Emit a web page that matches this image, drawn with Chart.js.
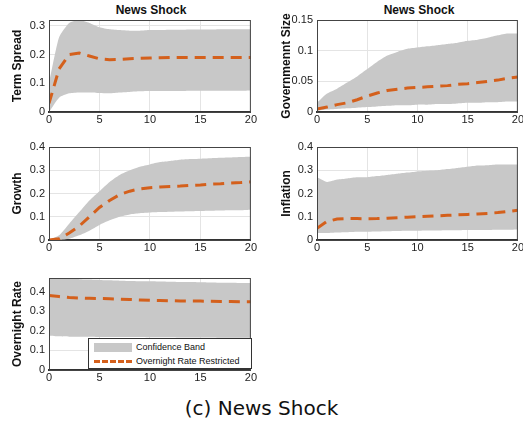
<!DOCTYPE html>
<html><head><meta charset="utf-8">
<script src="https://cdn.jsdelivr.net/npm/chart.js@4"></script>
<style>
body{margin:0;background:#fff;font-family:"Liberation Sans",Arial,sans-serif;}
.p{position:absolute;}
.t{position:absolute;font-weight:bold;font-size:12px;color:#111;width:204px;text-align:center;}
#cap{position:absolute;top:396px;left:0;width:523px;text-align:center;font-size:20px;font-family:"DejaVu Sans",sans-serif;color:#111;}
#leg{position:absolute;left:88px;top:338px;width:162px;height:29px;border:1px solid #333;background:#fff;font-size:9px;color:#111;white-space:nowrap;}
#leg div{height:14px;line-height:14px;display:flex;align-items:center;}
</style></head><body>
<div class="t" style="left:49px;top:3px">News Shock</div>
<div class="t" style="left:317px;top:3px">News Shock</div>
<div class="p" style="left:10px;top:0"><canvas id="c1"></canvas></div>
<div class="p" style="left:279px;top:0"><canvas id="c2"></canvas></div>
<div class="p" style="left:10px;top:130px"><canvas id="c3"></canvas></div>
<div class="p" style="left:279px;top:130px"><canvas id="c4"></canvas></div>
<div class="p" style="left:10px;top:260px"><canvas id="c5"></canvas></div>
<div id="leg">
<div style="margin-top:1px"><span style="display:inline-block;width:38px;height:9px;background:#c8c8c8;margin:0 4px 0 5px"></span>Confidence Band</div>
<div><span style="display:inline-block;width:38px;border-top:3px dashed #d4601c;margin:0 4px 0 5px"></span>Overnight Rate Restricted</div>
</div>
<div id="cap">(c) News Shock</div>
<script>
const horizon = [0,1,2,3,4,5,6,7,8,9,10,11,12,13,14,15,16,17,18,19,20];

const termMean = [0.03,0.15,0.2,0.205,0.195,0.185,0.182,0.183,0.185,0.187,0.188,0.189,0.19,0.19,0.19,0.19,0.19,0.19,0.19,0.19,0.19];
const termUp = [0.1,0.26,0.31,0.32,0.31,0.295,0.288,0.285,0.283,0.283,0.285,0.285,0.286,0.286,0.287,0.287,0.287,0.288,0.288,0.288,0.288];
const termLo = [0.0,0.05,0.065,0.068,0.068,0.066,0.065,0.068,0.07,0.072,0.073,0.073,0.073,0.073,0.074,0.074,0.074,0.074,0.074,0.074,0.075];

const govMean = [0.005,0.008,0.012,0.015,0.02,0.026,0.031,0.035,0.037,0.039,0.040,0.041,0.042,0.043,0.045,0.046,0.048,0.050,0.052,0.055,0.057];
const govUp = [0.015,0.03,0.038,0.048,0.058,0.07,0.082,0.092,0.098,0.103,0.105,0.107,0.109,0.111,0.113,0.116,0.118,0.121,0.125,0.128,0.128];
const govLo = [0.002,0.004,0.005,0.006,0.007,0.008,0.009,0.010,0.011,0.011,0.012,0.012,0.013,0.013,0.014,0.015,0.015,0.016,0.016,0.017,0.017];

const growthMean = [0,0.005,0.03,0.06,0.1,0.14,0.17,0.195,0.21,0.22,0.225,0.228,0.23,0.232,0.235,0.237,0.24,0.242,0.245,0.247,0.25];
const growthUp = [0,0.02,0.07,0.12,0.17,0.21,0.25,0.28,0.3,0.315,0.325,0.335,0.34,0.345,0.348,0.35,0.352,0.354,0.355,0.357,0.358];
const growthLo = [0,0,0.005,0.02,0.04,0.065,0.085,0.1,0.11,0.115,0.118,0.12,0.122,0.123,0.124,0.125,0.126,0.127,0.128,0.128,0.13];

const inflMean = [0.05,0.08,0.09,0.092,0.092,0.091,0.092,0.094,0.096,0.098,0.1,0.102,0.104,0.106,0.108,0.11,0.112,0.114,0.118,0.123,0.128];
const inflUp = [0.27,0.25,0.26,0.265,0.27,0.27,0.275,0.28,0.285,0.29,0.295,0.298,0.3,0.305,0.31,0.315,0.32,0.322,0.325,0.325,0.325];
const inflLo = [0.03,0.03,0.032,0.033,0.035,0.036,0.037,0.038,0.039,0.04,0.04,0.041,0.041,0.042,0.042,0.043,0.043,0.043,0.044,0.044,0.045];

const onMean = [0.38,0.375,0.37,0.368,0.366,0.365,0.364,0.362,0.36,0.358,0.356,0.355,0.354,0.353,0.352,0.352,0.351,0.35,0.35,0.349,0.349];
const onUp = [0.47,0.468,0.466,0.464,0.462,0.46,0.458,0.456,0.455,0.454,0.453,0.452,0.451,0.45,0.449,0.448,0.447,0.446,0.446,0.445,0.445];
const onLo = [0.175,0.172,0.17,0.17,0.17,0.169,0.169,0.168,0.168,0.168,0.167,0.167,0.167,0.166,0.166,0.166,0.166,0.165,0.165,0.165,0.165];

const pts = arr => arr.map((v, i) => ({x: horizon[i], y: v}));

const boxPlugin = {
  id: "box",
  afterDraw(chart) {
    const a = chart.chartArea, ctx = chart.ctx;
    ctx.save();
    ctx.strokeStyle = "#444"; ctx.lineWidth = 1;
    ctx.strokeRect(a.left + 0.5, a.top + 0.5, a.width - 1, a.height);
    ctx.restore();
  }
};

function panel(id, w, h, padTop, axisW, label, mean, up, lo, ymax, step) {
  const cv = document.getElementById(id);
  cv.width = w; cv.height = h;
  cv.style.width = w + "px"; cv.style.height = h + "px";
  return new Chart(cv, {
    type: "line",
    data: {
      datasets: [
        {data: pts(mean), borderColor: "#d4601c", borderWidth: 3, borderDash: [11, 7], pointRadius: 0, fill: false, tension: 0, order: 0},
        {data: pts(up), borderWidth: 0, pointRadius: 0, backgroundColor: "#c8c8c8", fill: "+1", tension: 0.2, order: 1},
        {data: pts(lo), borderWidth: 0, pointRadius: 0, fill: false, tension: 0.2, order: 2}
      ]
    },
    options: {
      responsive: false, animation: false,
      layout: {padding: {top: padTop, right: 5, left: 0, bottom: 0}},
      plugins: {legend: {display: false}, tooltip: {enabled: false}},
      scales: {
        x: {
          type: "linear", min: 0, max: 20,
          ticks: {stepSize: 5, color: "#222", font: {size: 11}, padding: 1, maxRotation: 0},
          grid: {color: "#e4e4e4", tickLength: 0},
          border: {color: "#333", width: 2},
          afterFit: s => { s.height = 14; }
        },
        y: {
          min: 0, max: ymax,
          afterBuildTicks: s => {
            const t = [];
            for (let k = 0; k * step <= ymax + 1e-9; k++) t.push({value: +(k * step).toFixed(4)});
            s.ticks = t;
          },
          ticks: {autoSkip: false, color: "#222", font: {size: 11}, padding: 4,
                  callback: v => +v.toFixed(3)},
          grid: {color: "#e4e4e4", tickLength: 0},
          border: {color: "#444"},
          title: {display: true, text: label, font: {size: 12, weight: "bold", family: "Liberation Sans"}, color: "#111", padding: 0},
          afterFit: s => { s.width = axisW; }
        }
      }
    },
    plugins: [boxPlugin]
  });
}

Chart.defaults.font.family = "Liberation Sans";
panel("c1", 248, 126, 20, 39, "Term Spread", termMean, termUp, termLo, 0.32, 0.1);
panel("c2", 246, 126, 20, 38, "Governmennt Size", govMean, govUp, govLo, 0.15, 0.05);
panel("c3", 248, 124, 17, 39, "Growth", growthMean, growthUp, growthLo, 0.4, 0.1);
panel("c4", 246, 124, 17, 38, "Inflation", inflMean, inflUp, inflLo, 0.4, 0.1);
panel("c5", 248, 124, 18, 39, "Overnight Rate", onMean, onUp, onLo, 0.47, 0.1);
</script>
</body></html>
